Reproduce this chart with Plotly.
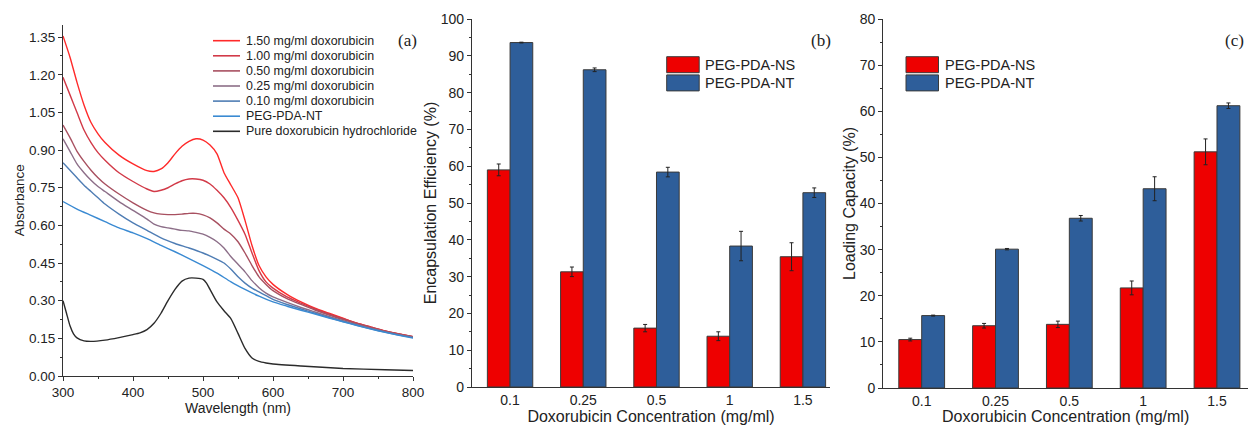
import plotly.graph_objects as go

W, H = 1248, 425

# ---------------- Panel (a): UV-vis absorbance spectra ----------------
wl_150 = [300, 310, 320, 330, 340, 350, 360, 380, 400, 420, 430, 440, 450, 460, 470, 480, 490, 500, 510, 520, 530, 540, 550, 560, 570, 580, 590, 600, 620, 640, 660, 680, 700, 720, 740, 760, 780, 800]
abs_150 = [1.355, 1.27, 1.17, 1.08, 1.01, 0.965, 0.93, 0.88, 0.845, 0.818, 0.815, 0.825, 0.85, 0.885, 0.915, 0.935, 0.945, 0.94, 0.92, 0.885, 0.81, 0.76, 0.71, 0.62, 0.52, 0.44, 0.395, 0.365, 0.325, 0.295, 0.27, 0.25, 0.23, 0.21, 0.195, 0.18, 0.168, 0.157]
abs_100 = [1.19, 1.12, 1.05, 0.98, 0.93, 0.89, 0.86, 0.81, 0.775, 0.745, 0.735, 0.74, 0.75, 0.765, 0.778, 0.785, 0.785, 0.78, 0.765, 0.74, 0.71, 0.67, 0.62, 0.565, 0.49, 0.42, 0.375, 0.35, 0.315, 0.29, 0.267, 0.247, 0.228, 0.21, 0.195, 0.18, 0.168, 0.157]
abs_050 = [1.00, 0.95, 0.895, 0.855, 0.82, 0.79, 0.765, 0.725, 0.69, 0.66, 0.65, 0.645, 0.643, 0.643, 0.645, 0.648, 0.648, 0.642, 0.63, 0.61, 0.585, 0.565, 0.535, 0.49, 0.44, 0.395, 0.365, 0.34, 0.308, 0.285, 0.263, 0.243, 0.225, 0.208, 0.193, 0.179, 0.167, 0.157]
abs_025 = [0.945, 0.895, 0.845, 0.81, 0.78, 0.755, 0.735, 0.695, 0.66, 0.625, 0.605, 0.595, 0.59, 0.585, 0.58, 0.578, 0.572, 0.565, 0.552, 0.535, 0.51, 0.475, 0.445, 0.415, 0.38, 0.352, 0.33, 0.315, 0.293, 0.273, 0.255, 0.237, 0.22, 0.204, 0.19, 0.177, 0.165, 0.155]

wl_010 = [300, 310, 320, 330, 340, 350, 360, 380, 400, 420, 440, 460, 480, 500, 520, 530, 540, 550, 560, 570, 580, 590, 600, 620, 640, 660, 680, 700, 720, 740, 760, 780, 800]
abs_010 = [0.85, 0.82, 0.79, 0.76, 0.735, 0.71, 0.685, 0.645, 0.61, 0.58, 0.55, 0.528, 0.51, 0.49, 0.465, 0.45, 0.425, 0.395, 0.37, 0.35, 0.335, 0.32, 0.305, 0.285, 0.267, 0.25, 0.233, 0.217, 0.202, 0.188, 0.175, 0.163, 0.153]

wl_nt = [300, 320, 340, 360, 380, 400, 420, 440, 460, 480, 500, 520, 540, 560, 580, 600, 620, 640, 660, 680, 700, 720, 740, 760, 780, 800]
abs_nt = [0.695, 0.665, 0.64, 0.615, 0.59, 0.57, 0.547, 0.52, 0.495, 0.468, 0.44, 0.41, 0.375, 0.345, 0.318, 0.295, 0.278, 0.262, 0.247, 0.231, 0.216, 0.201, 0.187, 0.174, 0.162, 0.151]

wl_dox = [300, 305, 310, 315, 320, 330, 340, 360, 380, 400, 410, 420, 430, 440, 450, 460, 470, 480, 490, 500, 505, 510, 520, 530, 540, 550, 560, 570, 580, 590, 600, 640, 700, 760, 800]
abs_dox = [0.30, 0.25, 0.20, 0.168, 0.152, 0.14, 0.138, 0.143, 0.153, 0.165, 0.172, 0.185, 0.21, 0.25, 0.30, 0.345, 0.378, 0.39, 0.39, 0.385, 0.37, 0.345, 0.295, 0.26, 0.228, 0.17, 0.11, 0.072, 0.058, 0.052, 0.048, 0.04, 0.03, 0.025, 0.022]

spec_names = ["1.50 mg/ml doxorubicin", "1.00 mg/ml doxorubicin", "0.50 mg/ml doxorubicin",
              "0.25 mg/ml doxorubicin", "0.10 mg/ml doxorubicin", "PEG-PDA-NT",
              "Pure doxorubicin hydrochloride"]
spec_x = [wl_150, wl_150, wl_150, wl_150, wl_010, wl_nt, wl_dox]
spec_y = [abs_150, abs_100, abs_050, abs_025, abs_010, abs_nt, abs_dox]
spec_colors = ["#FF2A2A", "#D23A48", "#A85060", "#8C6E88", "#4F7DB4", "#3A8AD2", "#2B2B2B"]

# ---------------- Panels (b) and (c): bar charts ----------------
conc = ["0.1", "0.25", "0.5", "1", "1.5"]
ee_ns = [59.0, 31.3, 16.0, 13.8, 35.4]
ee_ns_err = [1.6, 1.3, 1.0, 1.2, 3.8]
ee_nt = [93.6, 86.2, 58.4, 38.3, 52.8]
ee_nt_err = [0.1, 0.5, 1.3, 4.0, 1.3]
lc_ns = [10.5, 13.5, 13.8, 21.7, 51.2]
lc_ns_err = [0.3, 0.5, 0.7, 1.5, 2.8]
lc_nt = [15.7, 30.1, 36.8, 43.2, 61.2]
lc_nt_err = [0.1, 0.15, 0.6, 2.6, 0.6]
bar_names = ["PEG-PDA-NS", "PEG-PDA-NT"]
bar_colors = ["#EE0000", "#2E5E9A"]

FONT = "Liberation Sans, Arial, sans-serif"
SERIF = "Liberation Serif, Times New Roman, serif"
AX = "#333333"


def px(x):
    return x / W


def py(y):
    return 1 - y / H


fig = go.Figure()

for name, xs, ys, c in zip(spec_names, spec_x, spec_y, spec_colors):
    fig.add_trace(go.Scatter(x=xs, y=ys, mode="lines", name=name, showlegend=False,
                             line=dict(color=c, width=1.4, shape="spline", smoothing=0.6),
                             xaxis="x", yaxis="y"))

for vals, errs, nm, c in [(ee_ns, ee_ns_err, bar_names[0], bar_colors[0]),
                          (ee_nt, ee_nt_err, bar_names[1], bar_colors[1])]:
    fig.add_trace(go.Bar(x=conc, y=vals, name=nm, showlegend=False, offsetgroup=nm,
                         marker=dict(color=c, line=dict(color="#3a3a3a", width=1)),
                         error_y=dict(type="data", array=errs, color="#222", thickness=1, width=2),
                         xaxis="x2", yaxis="y2"))

for vals, errs, nm, c in [(lc_ns, lc_ns_err, bar_names[0], bar_colors[0]),
                          (lc_nt, lc_nt_err, bar_names[1], bar_colors[1])]:
    fig.add_trace(go.Bar(x=conc, y=vals, name=nm, showlegend=False, offsetgroup=nm,
                         marker=dict(color=c, line=dict(color="#3a3a3a", width=1)),
                         error_y=dict(type="data", array=errs, color="#222", thickness=1, width=2),
                         xaxis="x3", yaxis="y3"))

common = dict(showline=True, linecolor=AX, linewidth=1.2, showgrid=False, zeroline=False,
              ticks="outside", tickcolor=AX, ticklen=4, tickwidth=1, automargin=False)

fig.update_layout(
    width=W, height=H, margin=dict(l=0, r=0, t=0, b=0, pad=0, autoexpand=False),
    paper_bgcolor="white", plot_bgcolor="white",
    font=dict(family=FONT, color="#222"),
    barmode="group", bargap=0.38, bargroupgap=0,
    showlegend=False,
    xaxis=dict(domain=[px(63), px(413)], range=[300, 800], dtick=100, tick0=300,
               tickfont=dict(size=13.5), anchor="y",
               minor=dict(dtick=50, ticks="outside", ticklen=2, tickcolor=AX),
               title=dict(text="Wavelength (nm)", font=dict(size=14), standoff=0), **common),
    yaxis=dict(domain=[py(376), py(24.6)], range=[0, 1.40], dtick=0.15, tick0=0,
               tickformat=".2f", tickfont=dict(size=13.5), anchor="x",
               minor=dict(dtick=0.075, ticks="outside", ticklen=2, tickcolor=AX),
               title=dict(text="Absorbance", font=dict(size=13.5), standoff=1), **common),
    xaxis2=dict(domain=[px(472), px(830)], type="category", range=[-0.52, 4.37],
                tickfont=dict(size=14), anchor="y2",
                title=dict(text="Doxorubicin Concentration (mg/ml)", font=dict(size=16), standoff=0),
                **{**common, "ticks": ""}),
    yaxis2=dict(domain=[py(387), py(19)], range=[0, 100], dtick=10, tick0=0,
                tickfont=dict(size=14), anchor="x2",
                minor=dict(dtick=5, ticks="outside", ticklen=2, tickcolor=AX),
                title=dict(text="Encapsulation Efficiency (%)", font=dict(size=16), standoff=0), **common),
    xaxis3=dict(domain=[px(883.3), 1.0], type="category", range=[-0.52, 4.42],
                tickfont=dict(size=14), anchor="y3",
                title=dict(text="Doxorubicin Concentration (mg/ml)", font=dict(size=16), standoff=0),
                **{**common, "ticks": ""}),
    yaxis3=dict(domain=[py(388), py(19)], range=[0, 80], dtick=10, tick0=0,
                tickfont=dict(size=14), anchor="x3",
                minor=dict(dtick=5, ticks="outside", ticklen=2, tickcolor=AX),
                title=dict(text="Loading Capacity (%)", font=dict(size=16), standoff=0), **common),
)

shapes = []
annots = []

# Legend for panel (a), built from the series lists
for i, (name, c) in enumerate(zip(spec_names, spec_colors)):
    yc = 40.7 + i * 15.1
    shapes.append(dict(type="line", xref="paper", yref="paper", x0=px(213), x1=px(240),
                       y0=py(yc), y1=py(yc), line=dict(color=c, width=1.6)))
    annots.append(dict(xref="paper", yref="paper", x=px(243.5), y=py(yc), text=name,
                       showarrow=False, xanchor="left", yanchor="middle",
                       font=dict(size=12.4, family=FONT, color="#222")))

# Legends for panels (b) and (c)
for x0 in (666.7, 906.0):
    for i, (nm, c) in enumerate(zip(bar_names, bar_colors)):
        y0 = 56.7 + i * 18.2
        shapes.append(dict(type="rect", xref="paper", yref="paper", x0=px(x0), x1=px(x0 + 32.5),
                           y0=py(y0), y1=py(y0 + 16), fillcolor=c,
                           line=dict(color="#3a3a3a", width=1)))
        annots.append(dict(xref="paper", yref="paper", x=px(x0 + 36.5), y=py(y0 + 8), text=nm,
                           showarrow=False, xanchor="left", yanchor="middle",
                           font=dict(size=14.5, family=FONT, color="#222")))

# Panel labels
for lab, xc, yc in [("(a)", 407, 40), ("(b)", 821, 40), ("(c)", 1234, 41)]:
    annots.append(dict(xref="paper", yref="paper", x=px(xc), y=py(yc), text=lab, showarrow=False,
                       xanchor="center", yanchor="middle",
                       font=dict(size=17, family=SERIF, color="#222")))

fig.update_layout(shapes=shapes, annotations=annots)

fig.write_html("out.html", config={"displayModeBar": False},
               post_script="document.body.style.margin='0';document.body.style.overflow='hidden';")
